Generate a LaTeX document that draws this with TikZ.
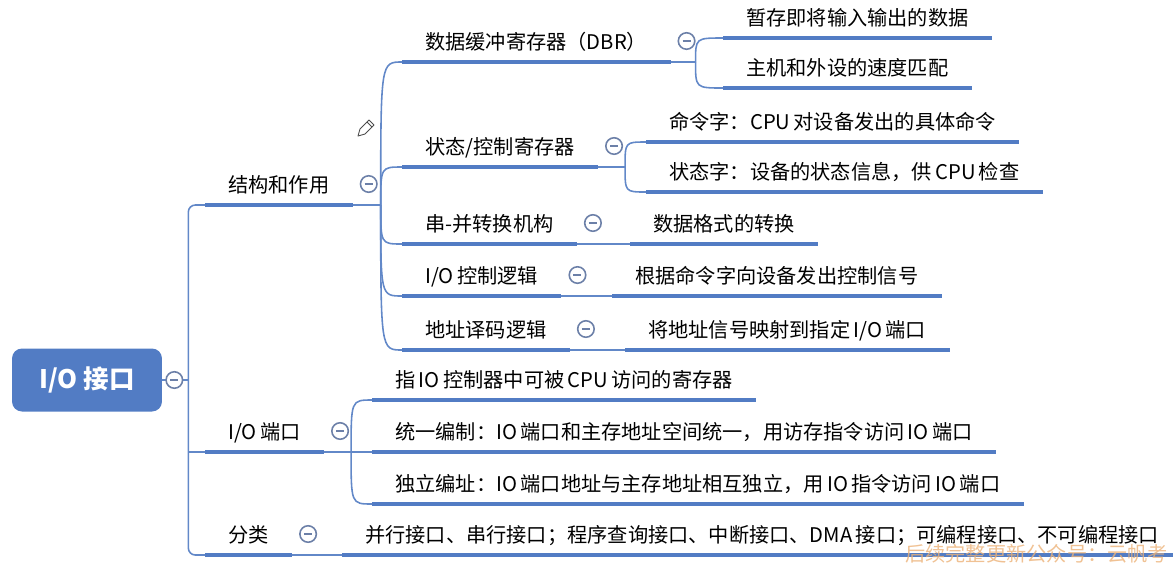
\documentclass[tikz,border=0pt]{standalone}
\usepackage{fontspec}
\setmainfont{Noto Sans CJK SC}
\usepackage{tikz}
\usetikzlibrary{positioning,calc}
\usepackage{xcolor}

\definecolor{mapblue}{RGB}{82,124,196}
\definecolor{linkblue}{RGB}{98,136,200}
\definecolor{foldgray}{RGB}{108,128,168}
\definecolor{wmark}{RGB}{236,178,120}

\tikzset{
  topic/.style={anchor=south west, inner xsep=0.46cm, inner ysep=0.2cm,
    text depth=0.05cm, font=\fontsize{11.5}{14}\selectfont},
  uline/.style={line width=2.5pt, mapblue},
  link/.style={line width=0.9pt, linkblue},
  fold/.style={circle, draw=foldgray, fill=white, line width=0.9pt,
    minimum size=0.33cm, inner sep=0pt,
    path picture={\draw[foldgray, line width=0.8pt]
      ([xshift=-0.08cm]path picture bounding box.center) --
      ([xshift=0.08cm]path picture bounding box.center);}},
}

\begin{document}
\begin{tikzpicture}[x=0.02cm, y=-0.02cm]
  \useasboundingbox (0,0) rectangle (1173,566);

  % root
  \node[rounded corners=0.2cm, fill=mapblue, text=white, minimum width=3cm,
    minimum height=1.26cm, font=\bfseries\fontsize{14.5}{17}\selectfont]
    (root) at (87,380) {I/O 接口};

  % first level
  \node[topic] (sa) at (205,205) {结构和作用};
  \node[topic] (port) at (205,452) {I/O\,端口};
  \node[topic] (cls) at (205,555) {分类};

  % structure and function
  \node[topic] (dbr) at (402,62) {数据缓冲寄存器（DBR）};
  \node[topic] (csr) at (402,167) {状态/控制寄存器};
  \node[topic] (sp) at (402,244) {串-并转换机构};
  \node[topic] (ctl) at (402,296) {I/O\,控制逻辑};
  \node[topic] (dec) at (402,350) {地址译码逻辑};

  \node[topic] (dbr1) at (723,38) {暂存即将输入输出的数据};
  \node[topic] (dbr2) at (723,88) {主机和外设的速度匹配};
  \node[topic] (csr1) at (646,142) {命令字：CPU\,对设备发出的具体命令};
  \node[topic] (csr2) at (646,192) {状态字：设备的状态信息，供\,CPU\,检查};
  \node[topic] (sp1) at (630,244) {数据格式的转换};
  \node[topic] (ctl1) at (612,296) {根据命令字向设备发出控制信号};
  \node[topic] (dec1) at (625,350) {将地址信号映射到指定\,I/O\,端口};

  % ports
  \node[topic] (port1) at (372,400) {指\,IO\,控制器中可被\,CPU\,访问的寄存器};
  \node[topic] (port2) at (372,452) {统一编制：IO\,端口和主存地址空间统一，用访存指令访问\,IO\,端口};
  \node[topic] (port3) at (372,504) {独立编址：IO\,端口地址与主存地址相互独立，用\,IO\,指令访问\,IO\,端口};

  % classes
  \node[topic] (cls1) at (342,555) {并行接口、串行接口；程序查询接口、中断接口、DMA\,接口；可编程接口、不可编程接口};

  % connectors
  \coordinate[right=0.52cm of root.east] (jr);
  \draw[link] (root.east) -- (jr);
  \draw[link, rounded corners=0.14cm] (sa.south west) -| (jr) |- (cls.south west);
  \draw[link] (jr |- port.south) -- (port.south west);

  \coordinate[right=0.56cm of sa.south east] (j1);
  \draw[link] (sa.south east) -- (j1);
  \foreach \c in {dbr,csr,sp,ctl,dec}
    \draw[link] (j1) .. controls (j1 |- \c.south) .. (\c.south west);

  \coordinate[right=0.5cm of dbr.south east] (j2);
  \draw[link] (dbr.south east) -- (j2);
  \foreach \c in {dbr1,dbr2}
    \draw[link] (j2) .. controls (j2 |- \c.south) .. (\c.south west);

  \coordinate[right=0.54cm of csr.south east] (j3);
  \draw[link] (csr.south east) -- (j3);
  \foreach \c in {csr1,csr2}
    \draw[link] (j3) .. controls (j3 |- \c.south) .. (\c.south west);

  \coordinate[right=0.54cm of port.south east] (j4);
  \draw[link] (port.south east) -- (j4);
  \foreach \c in {port1,port2,port3}
    \draw[link] (j4) .. controls (j4 |- \c.south) .. (\c.south west);

  \draw[link] (sp.south east) -- (sp1.south west);
  \draw[link] (ctl.south east) -- (ctl1.south west);
  \draw[link] (dec.south east) -- (dec1.south west);
  \draw[link] (cls.south east) -- (cls1.south west);

  % underlines
  \foreach \n in {sa,port,cls,dbr,csr,sp,ctl,dec,dbr1,dbr2,csr1,csr2,sp1,ctl1,dec1,port1,port2,port3,cls1}
    \draw[uline] (\n.south west) -- (\n.south east);

  % fold markers
  \node[fold] (froot) at ([xshift=0.24cm]root.east) {};
  \foreach \n in {sa,port,cls,dbr,csr,sp,ctl,dec}
    \node[fold] (f\n) at ([shift={(16,-21)}]\n.south east) {};

  % pencil
  \draw[black!70, line width=0.5pt, line join=round]
    (358,136) -- (360,129) -- (369,120) -- (374,125) -- (365,134) -- cycle;
  \draw[black!70, line width=0.5pt] (367,122) -- (372,127);

  % watermark
  \node[text=wmark, opacity=0.8, anchor=base west, inner sep=0pt,
    font=\fontsize{11.5}{14}\selectfont] (wm) at (905,561)
    {后续完整更新公众号：云帆考};
\end{tikzpicture}
\end{document}
